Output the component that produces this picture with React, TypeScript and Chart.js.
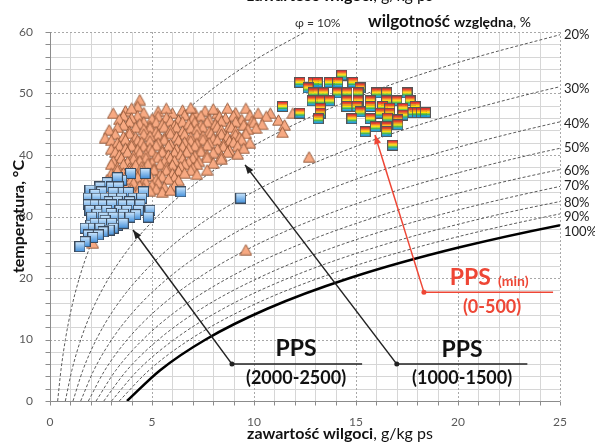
import React, { useEffect, useRef } from "react";
import { Chart, registerables } from "chart.js";
Chart.register(...registerables);

// Temperatures (°C) at which the relative-humidity curves are tabulated
const temperatures = [0, 5, 10, 15, 20, 25, 30, 35, 40, 45, 50, 55, 60];
// Moisture content (g/kg dry air) of each RH curve at those temperatures
const rh10 = [0.375, 0.536, 0.755, 1.048, 1.439, 1.951, 2.617, 3.475, 4.566, 5.945, 7.675, 9.828, 12.493];
const rh20 = [0.751, 1.072, 1.511, 2.1, 2.885, 3.915, 5.257, 6.987, 9.2, 12.005, 15.541, 19.971, 25.497];
const rh30 = [1.127, 1.61, 2.27, 3.156, 4.338, 5.891, 7.919, 10.54, 13.903, 18.183, 23.607, 30.44];
const rh40 = [1.504, 2.149, 3.03, 4.215, 5.797, 7.88, 10.603, 14.133, 18.675, 24.482, 31.88];
const rh50 = [1.881, 2.688, 3.792, 5.278, 7.263, 9.881, 13.312, 17.768, 23.521, 30.91];
const rh60 = [2.259, 3.228, 4.556, 6.344, 8.736, 11.896, 16.042, 21.444, 28.44];
const rh70 = [2.637, 3.77, 5.322, 7.414, 10.216, 13.922, 18.797, 25.161, 33.4];
const rh80 = [3.015, 4.312, 6.09, 8.487, 11.703, 15.962, 21.575, 28.92];
const rh90 = [3.394, 4.855, 6.859, 9.565, 13.197, 18.016, 24.378, 32.73];
const rh100 = [3.774, 5.4, 7.631, 10.65, 14.698, 20.081, 27.205, 36.58];

const xTickValues = [0, 5, 10, 15, 20, 25];
const yTickValues = [0, 10, 20, 30, 40, 50, 60];
const rhLabels = ["20%", "30%", "40%", "50%", "60%", "70%", "80%", "90%", "100%"];
const rhLabelTemps = [59.5, 50.7, 45.0, 41.1, 37.4, 35.0, 32.2, 29.9, 27.5];

// PPS (2000-2500): [moisture g/kg, temperature °C]
const pps2000 = [
  [3.95, 37.0], [4.66, 37.0], [3.51, 35.9], [3.3, 36.3], [2.8, 35.5],
  [2.45, 34.8], [3.02, 34.8], [3.35, 34.8], [1.96, 34.3], [2.53, 34.0], [3.1, 33.9], [3.59, 33.9], [3.84, 33.9], [4.58, 34.0], [6.42, 34.0],
  [2.2, 33.6], [1.88, 33.0], [2.29, 33.0], [2.7, 33.0], [3.1, 33.0], [3.51, 33.0], [4.08, 33.0], [4.49, 33.0],
  [2.9, 32.4], [3.3, 32.5], [3.9, 32.4],
  [1.88, 31.9], [2.21, 31.9], [2.61, 31.9], [3.02, 31.9], [3.59, 31.9], [4.0, 31.9], [4.41, 31.9],
  [1.96, 31.0], [2.45, 31.0], [2.78, 31.0], [3.43, 31.0], [3.76, 31.0], [4.33, 31.0], [4.9, 31.0],
  [2.3, 30.4], [3.0, 30.5], [3.6, 30.4], [4.2, 30.3],
  [2.04, 29.9], [2.61, 29.9], [3.1, 29.9], [3.59, 29.9], [3.92, 29.9], [4.82, 29.9],
  [2.7, 29.4], [2.0, 28.6], [3.3, 28.6],
  [2.21, 28.9], [2.61, 28.9], [3.02, 28.9], [3.59, 28.9],
  [1.72, 28.1], [2.12, 28.1], [2.45, 28.1], [3.1, 28.1], [2.9, 27.8], [2.6, 27.5],
  [1.88, 27.0], [2.37, 27.0], [2.1, 26.6], [1.72, 25.9], [1.47, 25.1],
  [9.35, 33.0],
];

// PPS (1000-1500)
const pps1000 = [
  [4.4, 49.0], [4.3, 47.9],
  [3.1, 46.8], [3.7, 47.2], [4.6, 46.9], [5.3, 47.1], [6.0, 46.8], [6.5, 47.3], [7.1, 46.9], [7.6, 47.2], [8.2, 46.8], [9.1, 46.9], [10.2, 46.8], [10.8, 46.8], [11.9, 46.8],
  [4.0, 47.6], [5.7, 47.6], [6.9, 47.7], [8.0, 47.5], [8.7, 47.6], [9.6, 47.6],
  [3.6, 46.4], [4.3, 46.4], [5.3, 46.3], [6.6, 46.5], [7.4, 46.4], [8.3, 46.3], [9.0, 46.4], [9.8, 46.5], [10.6, 46.3],
  [3.4, 45.8], [4.0, 46.0], [5.0, 45.9], [5.7, 46.1], [6.3, 45.7], [7.0, 46.0], [7.8, 45.8], [8.6, 46.0], [9.4, 45.8], [11.2, 45.7], [9.9, 45.5],
  [3.9, 45.4], [4.6, 45.4], [5.2, 45.3], [5.9, 45.5], [6.5, 45.4], [7.1, 45.3], [7.7, 45.4], [8.4, 45.5], [9.1, 45.4], [10.0, 45.3],
  [3.6, 44.9], [4.4, 45.1], [4.9, 44.7], [5.5, 45.0], [6.1, 44.8], [6.8, 45.1], [7.4, 44.9], [8.1, 45.0], [8.8, 44.7], [9.5, 44.9], [10.4, 45.0], [11.5, 44.9],
  [3.3, 44.5], [4.2, 44.5], [4.9, 44.4], [5.6, 44.6], [6.2, 44.5], [6.9, 44.4], [7.5, 44.5], [8.2, 44.6], [8.9, 44.5], [10.1, 44.4],
  [2.9, 44.1], [3.9, 43.9], [4.6, 44.2], [5.2, 43.8], [5.9, 44.1], [6.5, 43.9], [7.2, 44.2], [7.8, 43.8], [8.4, 44.1], [9.1, 43.9], [9.7, 44.2], [11.4, 43.7],
  [3.2, 43.4], [3.9, 43.5], [4.6, 43.4], [5.3, 43.3], [5.9, 43.5], [6.6, 43.4], [7.2, 43.3], [7.9, 43.5], [8.4, 43.4], [9.1, 43.3], [9.6, 43.5],
  [2.7, 42.8], [3.6, 43.0], [4.2, 42.9], [4.9, 43.1], [5.6, 42.8], [6.2, 43.0], [6.9, 42.9], [7.5, 43.1], [8.0, 42.7], [8.7, 43.0], [9.3, 42.9],
  [3.0, 42.4], [3.7, 42.5], [4.3, 42.4], [4.9, 42.3], [5.6, 42.5], [6.3, 42.4], [6.9, 42.3], [7.5, 42.5], [8.2, 42.4], [8.8, 42.3], [9.4, 42.5],
  [3.3, 42.0], [4.0, 41.9], [4.5, 42.1], [5.3, 42.0], [5.9, 41.8], [6.6, 42.1], [7.2, 41.9], [7.8, 42.0], [8.5, 41.8], [9.0, 42.1], [9.8, 42.0],
  [3.4, 41.5], [4.0, 41.5], [4.6, 41.4], [5.2, 41.6], [5.8, 41.5], [6.5, 41.4], [7.1, 41.5], [7.7, 41.6], [8.5, 41.4], [9.2, 41.5],
  [3.0, 41.0], [3.7, 41.1], [4.3, 40.9], [4.9, 41.1], [5.5, 40.8], [6.2, 41.0], [6.8, 41.1], [7.4, 40.9], [8.2, 41.0], [8.8, 40.8], [9.5, 41.1],
  [3.2, 40.5], [3.8, 40.5], [4.4, 40.4], [5.0, 40.6], [5.5, 40.5], [6.1, 40.4], [6.7, 40.5], [7.4, 40.6], [8.0, 40.4], [8.7, 40.5],
  [3.4, 40.0], [4.1, 39.9], [4.7, 40.1], [5.2, 39.8], [5.8, 40.0], [6.4, 40.1], [7.1, 39.9], [7.7, 40.0], [8.4, 39.8], [9.2, 40.2], [12.7, 39.7],
  [3.5, 39.5], [4.1, 39.4], [4.7, 39.5], [5.3, 39.6], [5.9, 39.5], [6.5, 39.4], [7.0, 39.5], [7.7, 39.6], [8.4, 39.4],
  [3.1, 39.0], [3.8, 38.9], [4.4, 39.1], [5.0, 38.8], [5.6, 39.0], [6.1, 39.1], [6.8, 38.9], [7.3, 39.0], [8.0, 38.7],
  [3.0, 38.5], [3.6, 38.5], [4.2, 38.4], [4.8, 38.6], [5.4, 38.5], [6.0, 38.4], [6.6, 38.5], [7.2, 38.5],
  [3.3, 38.0], [3.9, 37.9], [4.5, 38.1], [5.1, 37.8], [5.7, 38.0], [6.4, 38.1], [7.0, 37.9], [7.7, 37.6],
  [3.3, 37.5], [3.9, 37.4], [4.5, 37.5], [5.1, 37.6], [5.7, 37.5], [6.3, 37.4], [6.9, 37.5],
  [3.0, 37.0], [3.6, 37.1], [4.2, 36.9], [4.8, 37.1], [5.4, 36.8], [6.0, 37.0], [6.6, 37.1], [7.2, 36.9],
  [3.1, 36.5], [3.7, 36.5], [4.3, 36.4], [4.9, 36.6], [5.5, 36.5], [6.1, 36.4],
  [2.8, 36.0], [3.4, 35.9], [4.0, 36.1], [4.6, 35.8], [5.2, 36.0], [5.8, 36.1], [6.3, 35.9],
  [2.9, 35.5], [3.5, 35.4], [4.1, 35.5], [4.7, 35.6], [5.3, 35.5],
  [2.6, 35.0], [3.1, 35.1], [3.7, 34.9], [4.4, 35.0], [5.0, 35.1], [5.6, 34.8], [6.1, 35.0],
  [2.7, 34.5], [3.3, 34.5], [4.0, 34.4], [4.6, 34.6], [5.2, 34.5],
  [2.5, 34.0], [3.0, 33.9], [3.6, 34.1], [4.3, 33.9], [4.9, 34.2], [5.5, 34.0], [5.9, 34.3],
  [2.4, 33.0], [2.8, 32.6], [3.4, 33.2], [2.3, 32.0],
  [2.1, 25.7], [9.6, 24.6],
];

// PPS (min) (0-500)
const ppsMin = [
  [14.3, 53.0], [12.25, 51.8], [12.9, 51.8], [13.1, 51.8], [13.7, 51.8], [14.1, 51.8], [14.85, 51.8],
  [12.65, 50.9], [15.2, 50.9],
  [12.9, 50.1], [13.4, 50.1], [14.1, 50.1], [14.55, 50.1], [15.1, 50.1], [16.0, 50.1], [16.5, 50.1], [17.5, 50.1],
  [12.85, 48.8], [13.25, 48.8], [13.7, 48.8], [14.55, 48.8], [15.1, 48.8], [15.7, 48.8], [16.5, 48.8], [17.0, 48.8], [17.65, 48.8],
  [11.4, 47.9], [13.25, 47.6], [14.55, 47.9], [15.05, 47.9], [15.7, 47.9], [16.3, 47.9], [16.65, 47.6], [17.3, 47.6], [17.9, 47.9],
  [12.25, 46.8], [13.25, 46.8], [15.2, 47.0], [16.2, 46.8], [16.65, 46.8], [17.3, 46.5], [17.8, 46.9], [18.0, 46.9], [18.2, 46.9], [18.4, 46.9],
  [13.15, 45.9], [14.8, 45.9], [15.7, 45.9], [16.55, 46.0], [17.05, 45.7],
  [15.95, 44.6], [16.5, 44.6], [17.05, 44.9], [15.45, 43.8], [16.5, 43.8],
  [16.8, 41.6],
];

const FONT = "Lato, 'Noto Sans', sans-serif";

function curve(xs: number[]) {
  return xs.map((x, i) => ({ x, y: temperatures[i] }));
}
function pts(list: number[][]) {
  return list.map(([x, y]) => ({ x, y }));
}

function makeTriangle() {
  const c = document.createElement("canvas");
  c.width = 13; c.height = 12;
  const g = c.getContext("2d")!;
  g.beginPath();
  g.moveTo(6.5, 0.8); g.lineTo(12.3, 11.2); g.lineTo(0.7, 11.2); g.closePath();
  g.fillStyle = "#F7A982"; g.fill();
  g.strokeStyle = "#8E5535"; g.lineWidth = 0.9; g.stroke();
  return c;
}
function makeBlue() {
  const c = document.createElement("canvas");
  c.width = 11; c.height = 11;
  const g = c.getContext("2d")!;
  const gr = g.createLinearGradient(0, 0, 0, 11);
  gr.addColorStop(0, "#D5ECFF"); gr.addColorStop(1, "#3C8BD8");
  g.fillStyle = gr; g.fillRect(0.5, 0.5, 10, 10);
  g.strokeStyle = "#3B4A5C"; g.lineWidth = 1; g.strokeRect(0.5, 0.5, 10, 10);
  return c;
}
function makeRainbow() {
  const c = document.createElement("canvas");
  c.width = 11; c.height = 11;
  const g = c.getContext("2d")!;
  const cols = ["#E8322E", "#F7941D", "#FFE500", "#3BB54A", "#1E9BD7"];
  for (let i = 0; i < cols.length; i++) {
    g.fillStyle = cols[i];
    g.fillRect(1, 1 + i * 1.8, 9, 1.9);
  }
  g.strokeStyle = "#555"; g.lineWidth = 1; g.strokeRect(0.5, 0.5, 10, 10);
  return c;
}

function arrow(ctx: CanvasRenderingContext2D, x1: number, y1: number, x2: number, y2: number, color: string) {
  ctx.strokeStyle = color; ctx.fillStyle = color; ctx.lineWidth = 1.5;
  ctx.beginPath(); ctx.moveTo(x1, y1); ctx.lineTo(x2, y2); ctx.stroke();
  const a = Math.atan2(y2 - y1, x2 - x1);
  const L = 9, W = 3.5;
  ctx.beginPath();
  ctx.moveTo(x2, y2);
  ctx.lineTo(x2 - L * Math.cos(a) + W * Math.sin(a), y2 - L * Math.sin(a) - W * Math.cos(a));
  ctx.lineTo(x2 - L * Math.cos(a) - W * Math.sin(a), y2 - L * Math.sin(a) + W * Math.cos(a));
  ctx.closePath(); ctx.fill();
  ctx.beginPath(); ctx.arc(x1, y1, 2.5, 0, Math.PI * 2); ctx.fill();
}

const gridPlugin = {
  id: "customGrid",
  beforeDatasetsDraw(chart: any) {
    const { ctx, chartArea: a, scales } = chart;
    const sx = scales.x, sy = scales.y;
    ctx.save();
    ctx.lineWidth = 1;
    ctx.strokeStyle = "#D6D6D6";
    ctx.setLineDash([]);
    for (let v = 1; v < 25; v++) {
      if (v % 5 === 0) continue;
      const p = Math.round(sx.getPixelForValue(v)) + 0.5;
      ctx.beginPath(); ctx.moveTo(p, a.top); ctx.lineTo(p, a.bottom); ctx.stroke();
    }
    for (let t = 2; t < 60; t += 2) {
      if (t % 10 === 0) continue;
      const p = Math.round(sy.getPixelForValue(t)) + 0.5;
      ctx.beginPath(); ctx.moveTo(a.left, p); ctx.lineTo(a.right, p); ctx.stroke();
    }
    ctx.strokeStyle = "#A8A8A8";
    ctx.setLineDash([2, 2]);
    for (let v = 5; v <= 25; v += 5) {
      const p = Math.round(sx.getPixelForValue(v)) + 0.5;
      ctx.beginPath(); ctx.moveTo(p, a.top); ctx.lineTo(p, a.bottom); ctx.stroke();
    }
    for (let t = 10; t <= 60; t += 10) {
      const p = Math.round(sy.getPixelForValue(t)) + 0.5;
      ctx.beginPath(); ctx.moveTo(a.left, p); ctx.lineTo(a.right, p); ctx.stroke();
    }
    ctx.setLineDash([]);
    ctx.strokeStyle = "#8C8C8C";
    const l = Math.round(a.left) + 0.5, b = Math.round(a.bottom) + 0.5;
    ctx.beginPath(); ctx.moveTo(l, a.top); ctx.lineTo(l, b); ctx.lineTo(a.right, b); ctx.stroke();
    for (let t = 0; t <= 60; t += 2) {
      const p = Math.round(sy.getPixelForValue(t)) + 0.5;
      ctx.beginPath(); ctx.moveTo(l - 5, p); ctx.lineTo(l, p); ctx.stroke();
    }
    for (let v = 0; v <= 25; v++) {
      const p = Math.round(sx.getPixelForValue(v)) + 0.5;
      ctx.beginPath(); ctx.moveTo(p, b); ctx.lineTo(p, b + 4); ctx.stroke();
    }
    ctx.restore();
  },
  afterDraw(chart: any) {
    const { ctx, chartArea: a, scales } = chart;
    const sx = scales.x, sy = scales.y;
    const X = (v: number) => sx.getPixelForValue(v);
    const Y = (v: number) => sy.getPixelForValue(v);
    ctx.save();
    ctx.font = `13px ${FONT}`;
    ctx.fillStyle = "#222";
    ctx.textAlign = "left"; ctx.textBaseline = "middle";
    rhLabels.forEach((s, i) => ctx.fillText(s, a.right + 4, Y(rhLabelTemps[i])));
    ctx.fillStyle = "#333";
    ctx.font = `12px ${FONT}`;
    ctx.textBaseline = "alphabetic";
    ctx.fillText("φ = 10%", 295, 27);
    ctx.fillStyle = "#111";
    ctx.font = `bold 17px ${FONT}`;
    ctx.fillText("wilgotność", 368, 27);
    let w = ctx.measureText("wilgotność ").width;
    ctx.font = `bold 14px ${FONT}`;
    ctx.fillText("względna", 368 + w, 27);
    w += ctx.measureText("względna").width;
    ctx.font = `14px ${FONT}`;
    ctx.fillText(", %", 368 + w, 27);
    const drawXTitle = (cx: number, base: number) => {
      ctx.font = `bold 16px ${FONT}`;
      const w1 = ctx.measureText("zawartość wilgoci").width;
      ctx.font = `16px ${FONT}`;
      const w2 = ctx.measureText(", g/kg ps").width;
      const start = cx - (w1 + w2) / 2;
      ctx.textAlign = "left";
      ctx.font = `bold 16px ${FONT}`;
      ctx.fillText("zawartość wilgoci", start, base);
      ctx.font = `16px ${FONT}`;
      ctx.fillText(", g/kg ps", start + w1, base);
    };
    ctx.fillStyle = "#111";
    drawXTitle(340, 439);
    drawXTitle(340, 0.5);
    ctx.save();
    ctx.translate(19, (a.top + a.bottom) / 2);
    ctx.rotate(-Math.PI / 2);
    ctx.textAlign = "center"; ctx.textBaseline = "middle";
    ctx.font = `bold 16px ${FONT}`;
    ctx.fillText("temperatura, °C", 0, 0);
    ctx.restore();

    ctx.setLineDash([]);
    arrow(ctx, X(8.92), Y(6.0), X(4.07), Y(27.8), "#222");
    ctx.beginPath(); ctx.moveTo(X(8.92), Y(6.0)); ctx.lineTo(X(15.3), Y(6.0)); ctx.stroke();
    arrow(ctx, X(17.0), Y(6.0), X(9.56), Y(38.4), "#222");
    ctx.beginPath(); ctx.moveTo(X(17.0), Y(6.0)); ctx.lineTo(X(23.4), Y(6.0)); ctx.stroke();
    arrow(ctx, X(18.33), Y(17.7), X(15.93), Y(43.25), "#EE4635");
    ctx.beginPath(); ctx.moveTo(X(18.33), Y(17.7)); ctx.lineTo(X(24.66), Y(17.7)); ctx.stroke();

    ctx.textAlign = "center"; ctx.textBaseline = "middle";
    ctx.fillStyle = "#111";
    ctx.font = `bold 23px ${FONT}`;
    ctx.fillText("PPS", X(12.06), Y(8.6));
    ctx.fillText("PPS", X(20.2), Y(8.4));
    ctx.font = `bold 18px ${FONT}`;
    ctx.fillText("(2000-2500)", X(12.06), Y(3.7));
    ctx.fillText("(1000-1500)", X(20.2), Y(3.7));
    ctx.fillStyle = "#EE4635";
    ctx.textAlign = "left";
    ctx.font = `bold 23px ${FONT}`;
    ctx.fillText("PPS", X(19.6), Y(20.0));
    ctx.font = `bold 14px ${FONT}`;
    ctx.fillText("(min)", X(21.96), Y(19.4));
    ctx.textAlign = "center";
    ctx.font = `bold 18px ${FONT}`;
    ctx.fillText("(0-500)", X(21.67), Y(15.3));
    ctx.restore();
  },
};

export default function App() {
  const ref = useRef<HTMLCanvasElement | null>(null);
  useEffect(() => {
    const canvas = ref.current!;
    const tri = makeTriangle(), blue = makeBlue(), rainbow = makeRainbow();
    const rhCurves = [rh10, rh20, rh30, rh40, rh50, rh60, rh70, rh80, rh90];
    const curveSets: any[] = rhCurves.map((xs) => ({
      type: "line",
      data: curve(xs),
      borderColor: "#5A5A5A",
      borderWidth: 1,
      borderDash: [3, 2],
      pointRadius: 0,
      cubicInterpolationMode: "monotone",
      clip: 0,
      order: 10,
    }));
    curveSets.push({
      type: "line",
      data: curve(rh100),
      borderColor: "#000",
      borderWidth: 2.5,
      pointRadius: 0,
      cubicInterpolationMode: "monotone",
      clip: 0,
      order: 9,
    });
    const chart = new Chart(canvas, {
      type: "scatter",
      data: {
        datasets: [
          ...curveSets,
          { data: pts(pps1000), pointStyle: tri, pointRadius: 6, showLine: false, order: 3, clip: false },
          { data: pts(pps2000), pointStyle: blue, pointRadius: 6, showLine: false, order: 2, clip: false },
          { data: pts(ppsMin), pointStyle: rainbow, pointRadius: 6, showLine: false, order: 1, clip: false },
        ],
      } as any,
      options: {
        animation: false,
        responsive: false,
        maintainAspectRatio: false,
        events: [],
        layout: { padding: { top: 32, right: 35, left: 0, bottom: 0 } },
        plugins: { legend: { display: false }, tooltip: { enabled: false } },
        scales: {
          x: {
            type: "linear", min: 0, max: 25,
            afterFit: (s: any) => { s.height = 45; },
            afterBuildTicks: (s: any) => { s.ticks = xTickValues.map((v) => ({ value: v })); },
            grid: { display: false }, border: { display: false },
            ticks: { color: "#595959", font: { size: 12, family: FONT }, padding: 6, maxRotation: 0, autoSkip: false },
          },
          y: {
            type: "linear", min: 0, max: 60,
            afterFit: (s: any) => { s.width = 50; },
            afterBuildTicks: (s: any) => { s.ticks = yTickValues.map((v) => ({ value: v })); },
            grid: { display: false }, border: { display: false },
            ticks: { color: "#595959", font: { size: 12, family: FONT }, padding: 9, autoSkip: false },
          },
        },
      } as any,
      plugins: [gridPlugin],
    });
    return () => chart.destroy();
  }, []);
  return (
    <div style={{ position: "absolute", left: 0, top: 0, width: 595, height: 446, background: "#fff" }}>
      <canvas ref={ref} width={595} height={446} style={{ width: 595, height: 446, display: "block" }} />
    </div>
  );
}
